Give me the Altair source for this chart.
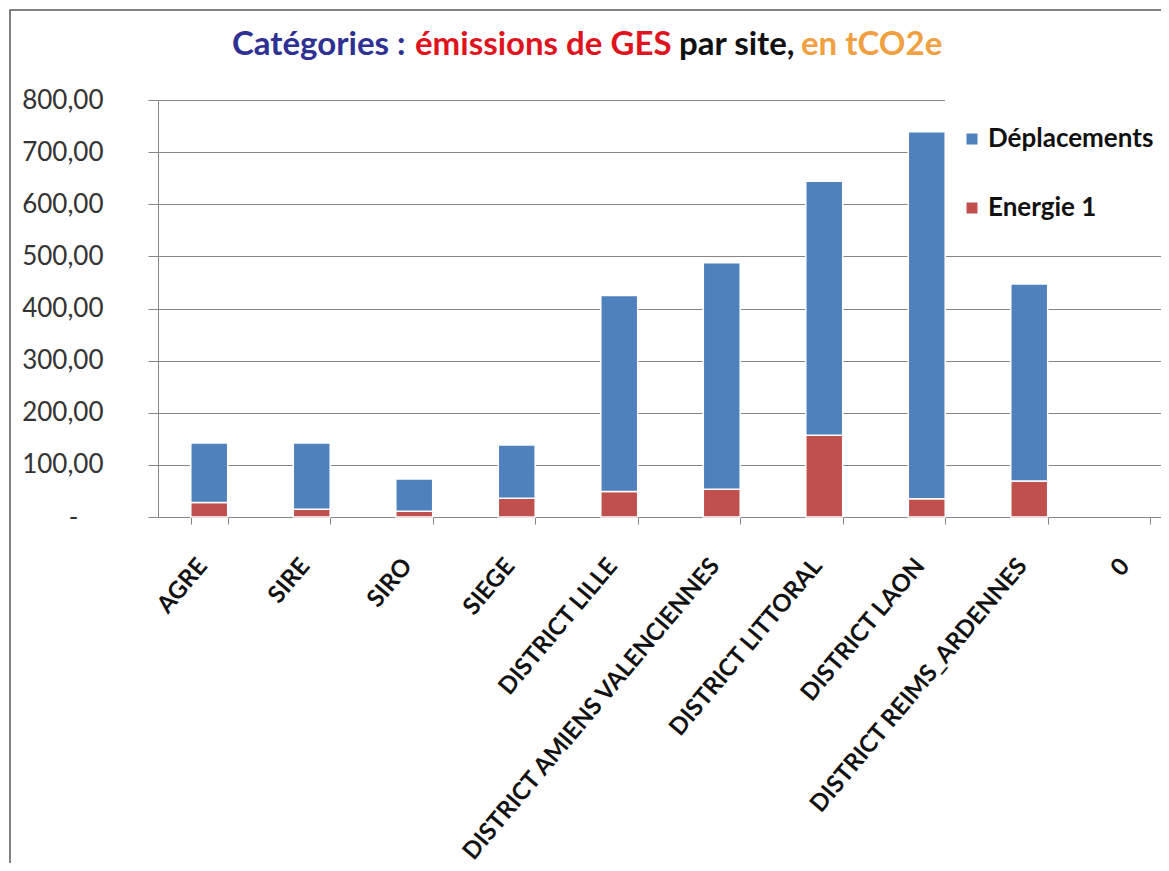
import altair as alt
import pandas as pd

categories = ["AGRE", "SIRE", "SIRO", "SIEGE", "DISTRICT LILLE",
              "DISTRICT AMIENS VALENCIENNES", "DISTRICT LITTORAL",
              "DISTRICT LAON", "DISTRICT REIMS_ARDENNES", "0"]
energie = [28, 15, 11, 36, 49, 53, 157, 35, 69]
deplacements = [114, 127, 62, 102, 376, 435, 487, 704, 378]
series = ["Déplacements", "Energie 1"]
colors = ["#4F81BD", "#C0504D"]
y_ticks = [0, 100, 200, 300, 400, 500, 600, 700, 800]

rows = []
for c, e, d in zip(categories, energie, deplacements):
    rows.append({"site": c, "serie": "Energie 1", "val": e, "ord": 0})
    rows.append({"site": c, "serie": "Déplacements", "val": d, "ord": 1})
df = pd.DataFrame(rows)

FONT = "Lato"

bars = alt.Chart(df).mark_bar(stroke="white", strokeWidth=1.5).encode(
    x=alt.X("site:N", sort=categories,
            scale=alt.Scale(domain=categories, range=[0, 1025],
                            paddingInner=0.64, paddingOuter=0.32),
            axis=alt.Axis(title=None, labelAngle=-50, labelAlign="right",
                          labelBaseline="top", labelFont=FONT,
                          labelFontSize=24, labelFontWeight="bold",
                          labelColor="#111111", labelPadding=30,
                          labelOffset=-16,
                          labelLimit=0, tickBand="extent", tickSize=7,
                          tickColor="#868686", domainColor="#868686",
                          grid=False, labelOverlap=False)),
    y=alt.Y("val:Q", stack="zero",
            scale=alt.Scale(domain=[0, 800], nice=False),
            axis=alt.Axis(title=None, values=y_ticks, grid=True,
                          gridColor="#868686", gridWidth=1,
                          tickColor="#868686", tickSize=10,
                          domainColor="#868686", labelFont=FONT,
                          labelFontSize=26, labelColor="#333333",
                          labelPadding={"condition": {"test": "datum.value == 0", "value": 70}, "value": 45},
                          labelExpr="datum.value == 0 ? '-' : replace(format(datum.value, '.2f'), '.', ',')")),
    color=alt.Color("serie:N",
                    scale=alt.Scale(domain=series, range=colors),
                    legend=alt.Legend(title=" ", titleFontSize=6,
                                      titlePadding=14, orient="none",
                                      legendX=787, legendY=-8,
                                      symbolType="square", symbolSize=121,
                                      symbolStrokeWidth=0,
                                      labelFont=FONT, labelFontSize=26,
                                      labelFontWeight="bold",
                                      labelColor="#111111", labelLimit=0,
                                      fillColor="white", padding=14,
                                      rowPadding=43, labelOffset=3)),
    order=alt.Order("ord:Q"),
)

one = alt.Data(values=[{"k": 1}])

frame = alt.Chart(one).mark_rect(fillOpacity=0, stroke="#595959",
                                 strokeWidth=1.5).encode(
    x=alt.value(-148), y=alt.value(-90), x2=alt.value(1300), y2=alt.value(900))

title_parts = [("Catégories :", "#2E3192"),
               ("émissions de GES", "#E0141E"),
               ("par site,", "#111111"),
               ("en tCO2e", "#F0A040")]
title_x = [74, 257, 521, 643]

title_layers = []
for (txt, col), tx in zip(title_parts, title_x):
    title_layers.append(
        alt.Chart(one).mark_text(align="left", baseline="middle", font=FONT,
                                 fontSize=33, fontWeight="bold",
                                 color=col).encode(
            x=alt.value(tx), y=alt.value(-55), text=alt.value(txt)))

chart = alt.layer(frame, bars, *title_layers).properties(
    width=1003, height=417,
    autosize=alt.AutoSizeParams(type="none"),
    padding={"left": 150, "top": 92, "right": 0, "bottom": 346},
).configure_view(strokeWidth=0).configure(background="white")

chart.save("out.html", embed_options={"renderer": "svg", "actions": False})
